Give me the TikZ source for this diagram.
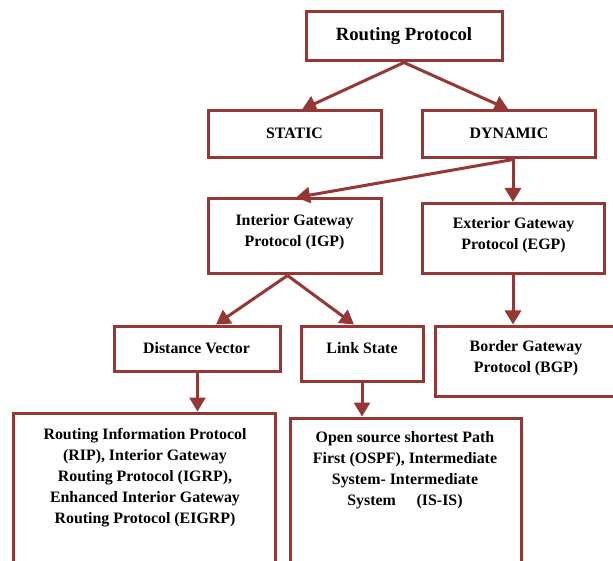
\documentclass[tikz,border=0pt]{standalone}
\usepackage{fontspec}
\setmainfont{Liberation Serif}
\usetikzlibrary{arrows.meta}
\definecolor{boxred}{RGB}{149,55,53}
\begin{document}
\begin{tikzpicture}[x=1pt,y=-1pt,
  box/.style={draw=boxred, line width=3pt, rectangle, inner sep=0pt},
  txt/.style={font=\bfseries\fontsize{15.9}{21}\selectfont, align=center, inner sep=0pt, text=black},
  conn/.style={draw=boxred, line width=3pt, -{Triangle[length=14pt,width=16pt]}}]
\useasboundingbox (0,0) rectangle (613,561);
\fill[white] (0,0) rectangle (613,561);
\clip (0,0) rectangle (613,561);
% boxes
\node[box, minimum width=196pt, minimum height=49pt] (root) at (404,36.5) {};
\node[box, minimum width=173pt, minimum height=47pt] (static) at (294.5,134.5) {};
\node[box, minimum width=173pt, minimum height=47pt] (dynamic) at (508.5,134.5) {};
\node[box, minimum width=173pt, minimum height=75pt] (igp) at (294.5,236.5) {};
\node[box, minimum width=182pt, minimum height=70pt] (egp) at (513,238.5) {};
\node[box, minimum width=166pt, minimum height=45pt] (dv) at (197.5,348.5) {};
\node[box, minimum width=122pt, minimum height=55pt] (ls) at (362,353.5) {};
\node[box, minimum width=190pt, minimum height=70pt] (bgp) at (530,361) {};
\node[box, minimum width=262pt, minimum height=167pt] (rip) at (144,496.5) {};
\node[box, minimum width=231pt, minimum height=162pt] (ospf) at (405.5,499) {};
% texts
\node[txt, font=\bfseries\fontsize{18.7}{22}\selectfont] (troot) at (404,36) {Routing Protocol};
\node[txt] (tstatic) at (294.5,133) {STATIC};
\node[txt] (tdynamic) at (509,133) {DYNAMIC};
\node[txt] (tigp) at (294.5,232) {Interior Gateway\\Protocol (IGP)};
\node[txt] (tegp) at (513.5,235.5) {Exterior Gateway\\Protocol (EGP)};
\node[txt] (tdv) at (196.5,348) {Distance Vector};
\node[txt] (tls) at (362,348) {Link State};
\node[txt] (tbgp) at (526,358.5) {Border Gateway\\Protocol (BGP)};
\node[txt] (trip) at (145,478) {Routing Information Protocol\\(RIP), Interior Gateway\\Routing Protocol (IGRP),\\Enhanced Interior Gateway\\Routing Protocol (EIGRP)};
\node[txt] (tospf) at (405,470.5) {Open source shortest Path\\First (OSPF), Intermediate\\System- Intermediate\\System\hspace{1.3em}(IS-IS)};
% connectors
\coordinate (dynout) at (egp.north |- dynamic.south);
\draw[conn] (root.south) -- ([xshift=7.5pt]static.north);
\draw[conn] (root.south) -- (dynamic.north);
\draw[conn] (dynout) -- ([xshift=1.5pt]igp.north);
\draw[conn] (dynout) -- (egp.north);
\draw[conn] ([xshift=-7pt]igp.south) -- ([xshift=18.5pt]dv.north);
\draw[conn] ([xshift=-7pt]igp.south) -- ([xshift=-8pt]ls.north);
\draw[conn] (egp.south) -- (egp.south |- bgp.north);
\draw[conn] (dv.south) -- (dv.south |- rip.north);
\draw[conn] (ls.south) -- (ls.south |- ospf.north);
\end{tikzpicture}
\end{document}
